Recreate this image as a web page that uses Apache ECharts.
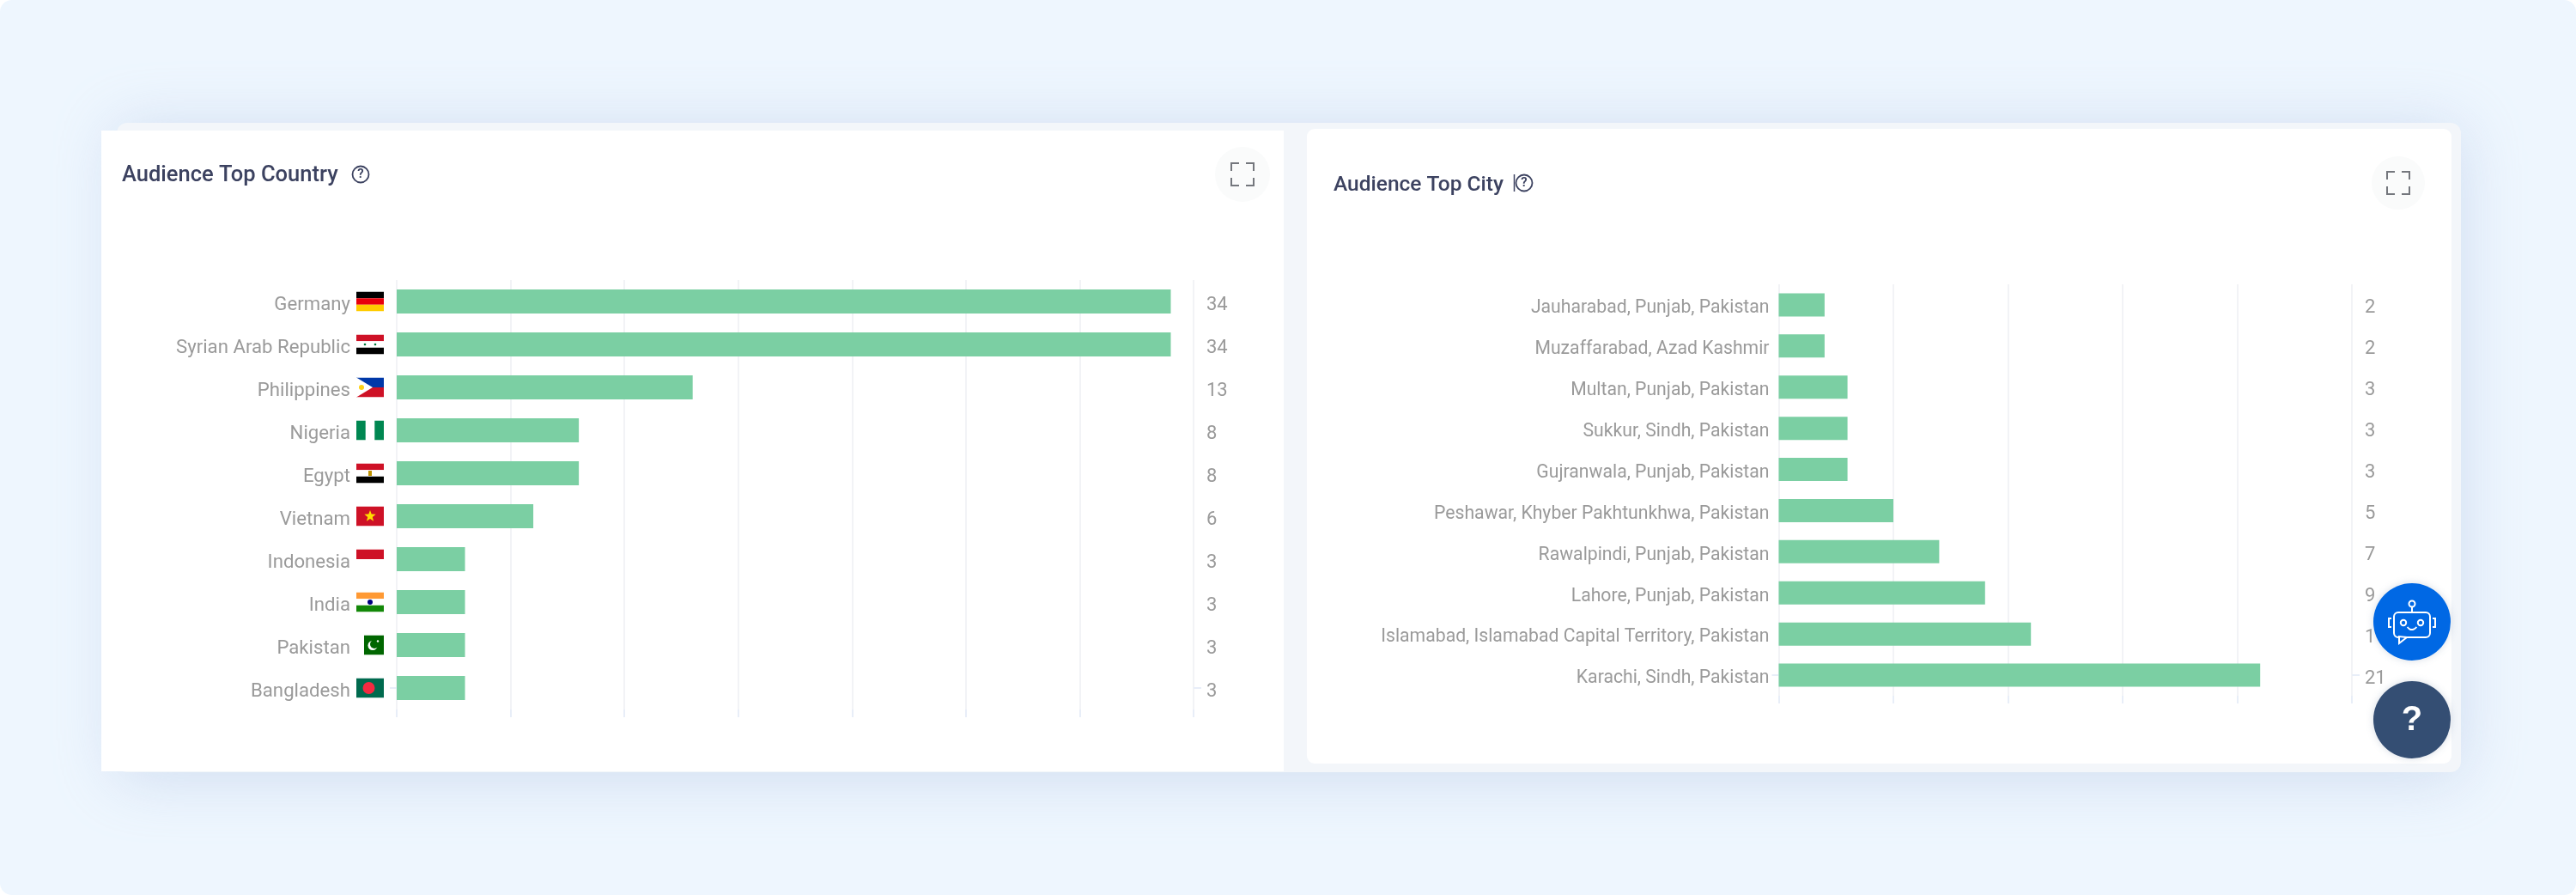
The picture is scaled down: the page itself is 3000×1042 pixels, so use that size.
<!DOCTYPE html>
<html><head><meta charset="utf-8">
<style>html,body{margin:0;padding:0;background:#fff;width:3000px;height:1042px;overflow:hidden}#c{width:3000px;height:1042px}</style>
<script src="https://cdn.jsdelivr.net/npm/echarts@6/dist/echarts.min.js"></script>
</head><body><div id="c"></div>
<script>
const countries = ['Germany','Syrian Arab Republic','Philippines','Nigeria','Egypt','Vietnam','Indonesia','India','Pakistan','Bangladesh'];
const countryValues = [34,34,13,8,8,6,3,3,3,3];
const cities = ['Jauharabad, Punjab, Pakistan','Muzaffarabad, Azad Kashmir','Multan, Punjab, Pakistan','Sukkur, Sindh, Pakistan','Gujranwala, Punjab, Pakistan','Peshawar, Khyber Pakhtunkhwa, Pakistan','Rawalpindi, Punjab, Pakistan','Lahore, Punjab, Pakistan','Islamabad, Islamabad Capital Territory, Pakistan','Karachi, Sindh, Pakistan'];
const cityValues = [2,2,3,3,3,5,7,9,11,21];
const titleCountry = 'Audience Top Country';
const titleCity = 'Audience Top City';

const svg = b => 'data:image/svg+xml;charset=utf-8,' + encodeURIComponent('<svg xmlns="http://www.w3.org/2000/svg" width="32" height="23" viewBox="0 0 32 23">' + b + '</svg>');
const stripes = (a,b,c) => `<rect width="32" height="7.7" fill="${a}"/><rect y="7.7" width="32" height="7.6" fill="${b}"/><rect y="15.3" width="32" height="7.7" fill="${c}"/>`;
const star = (x,y,r,f) => { let p=[]; for(let i=0;i<10;i++){const a=-Math.PI/2+i*Math.PI/5,q=i%2?r*0.42:r;p.push((x+q*Math.cos(a)).toFixed(1)+','+(y+q*Math.sin(a)).toFixed(1));} return `<polygon points="${p.join(' ')}" fill="${f}"/>`; };
const flagImages = [
  svg(stripes('#000','#e8000c','#ffcc00')),
  svg(stripes('#ce1126','#fff','#000') + '<circle cx="10" cy="11.5" r="1.3" fill="#007a3d"/><circle cx="22" cy="11.5" r="1.3" fill="#007a3d"/>'),
  svg('<rect width="32" height="11.5" fill="#0038a8"/><rect y="11.5" width="32" height="11.5" fill="#ce1126"/><polygon points="0,0 19,11.5 0,23" fill="#fff"/><circle cx="6" cy="11.5" r="3" fill="#fcd116"/>'),
  svg('<rect width="10.7" height="23" fill="#008751"/><rect x="21.3" width="10.7" height="23" fill="#008751"/>'),
  svg(stripes('#ce1126','#fff','#000') + '<rect x="14" y="8.5" width="4" height="6" fill="#c09300"/>'),
  svg('<rect width="32" height="23" fill="#ce1126"/>' + star(16,11.5,7,'#ffdd00')),
  svg('<rect width="32" height="11.5" fill="#ce1126"/>'),
  svg(stripes('#ff9933','#fff','#138808') + '<circle cx="16" cy="11.5" r="3" fill="#000080"/>'),
  svg('<rect x="9" width="23" height="23" fill="#006600"/><circle cx="19" cy="12" r="5.5" fill="#fff"/><circle cx="21" cy="10.5" r="5" fill="#006600"/><circle cx="25" cy="7" r="1.2" fill="#fff"/>'),
  svg('<rect width="32" height="23" fill="#006a4e"/><circle cx="14.5" cy="11.5" r="7" fill="#f42a41"/>')
];

const FONT = 'Roboto';
const BAR = '#7BCFA3';
const GRAY = '#9a9a9a';
const richC = { t:{ fontFamily:FONT, fontSize:22.2, color:GRAY, padding:[8,7,0,0] } };
flagImages.forEach((u,i)=>{ richC['f'+i] = { width:32, height:23, backgroundColor:{image:u} }; });

const tickStyle = { color:'#e8eef8', width:2 };
const split = { show:true, lineStyle:{ color:'#f2f3f6', width:2 } };
const lastOnly = (idx) => idx === 9;
const xA = (gi,max) => ({ type:'value', gridIndex:gi, min:0, max, interval:5, position:'bottom',
  axisLine:{show:false}, axisLabel:{show:false},
  axisTick:{show:true, length:9, lineStyle:tickStyle}, splitLine:split });
const yL = (gi,data,label) => ({ type:'category', gridIndex:gi, position:'left', inverse:true, data,
  axisLine:{show:false}, splitLine:{show:false},
  axisTick:{show:true, alignWithLabel:true, length:8, interval:lastOnly, lineStyle:tickStyle},
  axisLabel:Object.assign({interval:0}, label) });
const yR = (gi,data) => ({ type:'category', gridIndex:gi, position:'right', inverse:true, data:data.map(String),
  axisLine:{show:false}, splitLine:{show:false},
  axisTick:{show:true, alignWithLabel:true, length:9, interval:lastOnly, lineStyle:tickStyle},
  axisLabel:{ interval:0, margin:15, align:'left', formatter:v=>`{v|${v}}`,
    rich:{ v:{ fontFamily:FONT, fontSize:22, color:GRAY, padding:[8,0,0,0] } } } });

const expand = (cx,cy,r) => { const s=13, k=9; return {
  type:'group', x:cx, y:cy, children:[
    {type:'circle', z:1, shape:{cx:0,cy:0,r}, style:{fill:'#fafbfb'}},
    ...[[-1,-1],[1,-1],[-1,1],[1,1]].map(([a,b])=>({type:'polyline', z:1, shape:{points:[[a*s,b*(s-k)],[a*s,b*s],[a*(s-k),b*s]]}, style:{stroke:'#74777d',lineWidth:2,fill:'none'}}))
  ]};};
const helpIcon = (cx,cy) => ({ type:'group', x:cx, y:cy, children:[
  {type:'circle', z:1, shape:{cx:0,cy:0,r:9.5}, style:{fill:'#fff',stroke:'#3c4260',lineWidth:1.8}},
  {type:'text', z:2, style:{text:'?',x:0,y:0,align:'center',verticalAlign:'middle',fontFamily:FONT,fontSize:15,fontWeight:600,fill:'#3c4260'}}
]});
const W = {stroke:'#fff',lineWidth:2,fill:'none'};
const robot = { type:'group', x:2809, y:724, z:50, children:[
  {type:'circle', z:50, shape:{cx:0,cy:0,r:45}, style:{fill:'#0068e4',shadowBlur:8,shadowColor:'rgba(120,140,170,.3)'}},
  {type:'rect', z:51, shape:{x:-21,y:-11,width:42,height:29,r:5}, style:W},
  {type:'polygon', z:51, shape:{points:[[-15,17],[-15,25],[-6,18]]}, style:{fill:'#0068e4',stroke:'#fff',lineWidth:2}},
  {type:'line', z:51, shape:{x1:0,y1:-17,x2:0,y2:-11}, style:W},
  {type:'circle', z:51, shape:{cx:0,cy:-21,r:3.5}, style:W},
  {type:'circle', z:51, shape:{cx:-10,cy:1,r:3.2}, style:W},
  {type:'circle', z:51, shape:{cx:10,cy:1,r:3.2}, style:W},
  {type:'arc', z:51, shape:{cx:0,cy:3,r:6,startAngle:0.5,endAngle:Math.PI-0.5,clockwise:true}, style:W},
  {type:'polyline', z:51, shape:{points:[[-24,-4],[-27,-4],[-27,6],[-24,6]]}, style:W},
  {type:'polyline', z:51, shape:{points:[[24,-4],[27,-4],[27,6],[24,6]]}, style:W}
]};
const helpBtn = { type:'group', x:2809, y:838, z:50, children:[
  {type:'circle', z:50, shape:{cx:0,cy:0,r:45}, style:{fill:'#344e73',shadowBlur:8,shadowColor:'rgba(120,140,170,.3)'}},
  {type:'text', z:51, style:{text:'?',x:0,y:1,align:'center',verticalAlign:'middle',fontFamily:'Liberation Sans',fontSize:40,fontWeight:700,fill:'#fff'}}
]};

const option = {
  animation:false,
  backgroundColor:'#ffffff',
  title:[
    {text:titleCountry,left:137,top:187,textStyle:{fontFamily:FONT,fontSize:25.5,fontWeight:500,color:'#3c4260'}},
    {text:titleCity,left:1548,top:198,textStyle:{fontFamily:FONT,fontSize:24.5,fontWeight:500,color:'#3c4260'}}
  ],
  grid:[
    {left:462,top:326,width:928,height:500},
    {left:2071.5,top:331,width:667.5,height:479}
  ],
  xAxis:[xA(0,35),xA(1,25)],
  yAxis:[
    yL(0,countries,{ margin:15, formatter:(v,i)=>`{t|${v}}{f${i}|}`, rich:richC }),
    yR(0,countryValues),
    yL(1,cities,{ margin:11, formatter:v=>`{c|${v}}`, rich:{ c:{ fontFamily:FONT, fontSize:21.2, color:GRAY, padding:[8,0,0,0] } } }),
    yR(1,cityValues)
  ],
  series:[
    {type:'bar',xAxisIndex:0,yAxisIndex:0,data:countryValues,barWidth:28,itemStyle:{color:BAR},silent:true},
    {type:'bar',xAxisIndex:1,yAxisIndex:2,data:cityValues,barWidth:27,itemStyle:{color:BAR},silent:true}
  ],
  graphic:{elements:[
    {type:'rect',z:-10,shape:{x:0,y:0,width:3000,height:1042,r:14},style:{fill:'#eef6fe'}},
    {type:'rect',z:-9,shape:{x:136,y:143,width:2730,height:756,r:12},style:{fill:'#f3f6fa',shadowBlur:70,shadowOffsetY:6,shadowColor:'rgba(170,190,225,.45)'}},
    {type:'rect',z:-8,shape:{x:118,y:152,width:1377,height:746},style:{fill:'#fff'}},
    {type:'rect',z:-8,shape:{x:1522,y:150,width:1333,height:739,r:9},style:{fill:'#fff'}},
    expand(1447,203,32), expand(2793,213,31),
    helpIcon(420,203), helpIcon(1775,213),
    {type:'line',z:3,shape:{x1:1763.5,y1:203,x2:1763.5,y2:223},style:{stroke:'#3c4260',lineWidth:1.5}},
    robot, helpBtn
  ]}
};
const chart = echarts.init(document.getElementById('c'),null,{width:3000,height:1042});
chart.setOption(option);
</script></body></html>
